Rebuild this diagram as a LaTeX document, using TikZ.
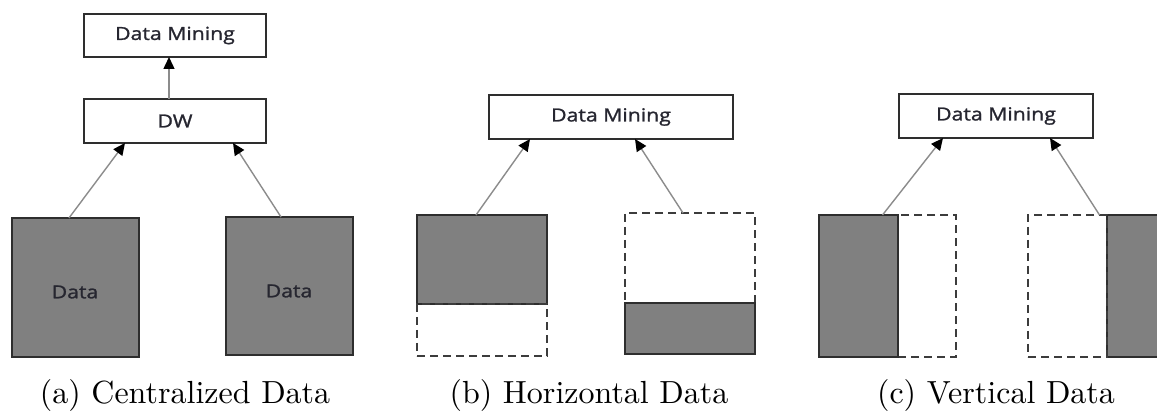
\documentclass[tikz,border=0pt]{standalone}
\usepackage{fontspec}
\usetikzlibrary{arrows.meta}
\newfontfamily\boxfont{Open Sans}[FakeBold=1.2]
\newfontfamily\capfont{lmroman10-regular.otf}
\definecolor{edge}{HTML}{2E2E2E}
\definecolor{dashc}{HTML}{3C3C3C}
\definecolor{fillg}{HTML}{808080}
\definecolor{arrowc}{HTML}{8C8C8C}
\definecolor{txtc}{HTML}{262630}
\tikzset{
  every node/.style={inner sep=0pt, outer sep=0pt},
  whitebox/.style={draw=edge, line width=2.1pt, fill=white, font=\boxfont\fontsize{18}{20}\selectfont, text=txtc},
  graybox/.style={draw=edge, line width=2.1pt, fill=fillg},
  dashbox/.style={draw=dashc, line width=2.1pt, dash pattern=on 8pt off 5pt},
  boxtext/.style={font=\boxfont\fontsize{18}{20}\selectfont, text=txtc},
  conn/.style={draw=arrowc, line width=1.4pt, -{Triangle[length=12pt,width=11pt,color=black]}},
  caption/.style={font=\capfont\fontsize{32}{38}\selectfont, anchor=base}
}
\newcommand{\wide}[1]{\scalebox{1.18}[1]{#1}}
\begin{document}
\begin{tikzpicture}[x=1pt,y=-1pt]
\fill[white] (0,0) rectangle (1157,411);
\clip (0,0) rectangle (1157,411);

% (a) Centralized
\node[whitebox, minimum width=182pt, minimum height=43pt] (dm1) at (175,35.5) {\wide{Data Mining}};
\node[whitebox, minimum width=182pt, minimum height=44pt] (dw) at (175,121) {\wide{DW}};
\node[graybox, minimum width=127pt, minimum height=139pt] (a1) at (75.5,287.5) {};
\node[graybox, minimum width=127pt, minimum height=138pt] (a2) at (289.5,286) {};
\node[boxtext] (a1t) at (75,292) {\wide{Data}};
\node[boxtext] (a2t) at (289,291) {\wide{Data}};
\draw[conn] ([xshift=-6pt]dw.north) -- ([xshift=-6pt]dm1.south);
\draw[conn] ([xshift=-6.5pt]a1.north) -- ([xshift=-50pt]dw.south);
\draw[conn] ([xshift=-8.5pt]a2.north) -- ([xshift=58pt]dw.south);
\node[caption] (capa) at (185,404) {(a) Centralized Data};

% (b) Horizontal
\node[whitebox, minimum width=244pt, minimum height=44pt] (dm2) at (611,117) {\wide{Data Mining}};
\node[graybox, minimum width=130pt, minimum height=89pt] (b1g) at (482,259.5) {};
\node[dashbox, minimum width=130pt, minimum height=52pt] (b1d) at (482,330) {};
\node[dashbox, minimum width=130pt, minimum height=90pt] (b2d) at (690,258) {};
\node[graybox, minimum width=130pt, minimum height=51pt] (b2g) at (690,328.5) {};
\draw[conn] ([xshift=-6pt]b1g.north) -- ([xshift=-81pt]dm2.south);
\draw[conn] ([xshift=-7pt]b2d.north) -- ([xshift=24pt]dm2.south);
\node[caption] (capb) at (589,404) {(b) Horizontal Data};

% (c) Vertical
\node[dashbox, minimum width=58pt, minimum height=142pt] (c1d) at (927,286) {};
\node[graybox, minimum width=79pt, minimum height=142pt] (c1g) at (858.5,286) {};
\node[graybox, minimum width=79pt, minimum height=142pt] (c2g) at (1146.5,286) {};
\node[dashbox, minimum width=79pt, minimum height=142pt] (c2d) at (1067.5,286) {};
\node[whitebox, minimum width=194pt, minimum height=44pt] (dm3) at (996,116) {\wide{Data Mining}};
\draw[conn] ([xshift=24pt]c1g.north) -- ([xshift=-53pt]dm3.south);
\draw[conn] ([xshift=32pt]c2d.north) -- ([xshift=54pt]dm3.south);
\node[caption] (capc) at (996,404) {(c) Vertical Data};
\end{tikzpicture}
\end{document}
